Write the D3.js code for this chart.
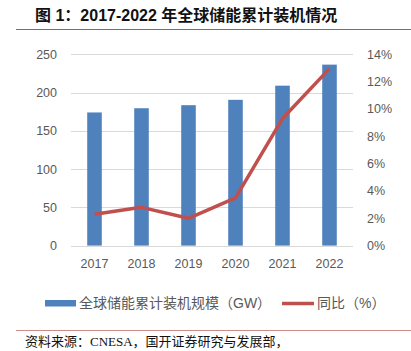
<!DOCTYPE html>
<html><head><meta charset="utf-8">
<script src="https://cdn.jsdelivr.net/npm/d3@7"></script>
<style>body{margin:0;background:#fff}svg{display:block}</style>
</head><body>
<svg id="c" width="411" height="351"></svg>
<script>
const years = ["2017","2018","2019","2020","2021","2022"];
const capacity = [174, 179.5, 183.5, 190.5, 209, 236.5];
const growth = [2.3, 2.8, 2.0, 3.5, 9.3, 12.95];
const leftTicks = [0,50,100,150,200,250];
const rightTicks = [0,2,4,6,8,10,12,14];

const svg = d3.select("#c");
const L=71, R=353, T=54.3, B=245.6;
const x = d3.scaleBand().domain(years).range([L,R]).paddingInner(0.69).paddingOuter(0.345);
const xc = d3.scaleBand().domain(years).range([L,R]);
const y = d3.scaleLinear().domain([0,250]).range([B,T]);
const y2 = d3.scaleLinear().domain([0,14]).range([B,T]);
const gray="#595959", font="'Liberation Sans', Arial, sans-serif";
const mix="'Liberation Sans','Noto Sans CJK SC', sans-serif";

// title
svg.append("text").attr("x",35).attr("y",21).attr("font-family",mix)
  .attr("font-weight","bold").attr("font-size",16).attr("fill","#111").text("图 1：2017-2022 年全球储能累计装机情况");
svg.append("line").attr("x1",16).attr("x2",411).attr("y1",29.5).attr("y2",29.5).attr("stroke","#C0504D").attr("stroke-width",1.2);

// gridlines
svg.append("g").selectAll("line").data(leftTicks).join("line")
  .attr("x1",L).attr("x2",R).attr("y1",d=>Math.round(y(d))+0.5).attr("y2",d=>Math.round(y(d))+0.5)
  .attr("stroke","#D9D9D9").attr("stroke-width",1);

// left axis
const ga = svg.append("g").attr("transform",`translate(${L-14},0)`)
  .call(d3.axisLeft(y).tickValues(leftTicks).tickSize(0).tickPadding(0));
ga.select(".domain").remove();
ga.selectAll("text").attr("font-family",font).attr("font-size",12.5).attr("fill",gray);

// right axis
const gb = svg.append("g").attr("transform",`translate(${R+14},0)`)
  .call(d3.axisRight(y2).tickValues(rightTicks).tickSize(0).tickPadding(0).tickFormat(d=>d+"%"));
gb.select(".domain").remove();
gb.selectAll("text").attr("font-family",font).attr("font-size",12.5).attr("fill",gray);

// bottom axis
const gx = svg.append("g").attr("transform",`translate(0,${B})`)
  .call(d3.axisBottom(xc).tickSize(0).tickPadding(14));
gx.select(".domain").remove();
gx.selectAll("text").attr("font-family",font).attr("font-size",12.5).attr("fill",gray);

// bars
svg.append("g").selectAll("rect").data(capacity).join("rect")
  .attr("x",(d,i)=>x(years[i])).attr("width",x.bandwidth())
  .attr("y",d=>y(d)).attr("height",d=>B-y(d)).attr("fill","#4F81BD");

// line
svg.append("path").datum(growth)
  .attr("d",d3.line().x((d,i)=>xc(years[i])+xc.bandwidth()/2).y(d=>y2(d)))
  .attr("fill","none").attr("stroke","#C0504D").attr("stroke-width",3.5).attr("stroke-linejoin","round");

// legend
svg.append("rect").attr("x",45).attr("y",300).attr("width",31).attr("height",6.5).attr("fill","#4F81BD");
svg.append("text").attr("x",79).attr("y",308).attr("font-family",mix).attr("font-size",14).attr("fill",gray).text("全球储能累计装机规模（GW）");
svg.append("line").attr("x1",282).attr("x2",314).attr("y1",303.5).attr("y2",303.5).attr("stroke","#C0504D").attr("stroke-width",3.5);
svg.append("text").attr("x",317).attr("y",308).attr("font-family",mix).attr("font-size",14).attr("fill",gray).text("同比（%）");

// source
svg.append("line").attr("x1",16).attr("x2",411).attr("y1",330.5).attr("y2",330.5).attr("stroke","#D08A88").attr("stroke-width",1.2);
svg.append("text").attr("x",25).attr("y",346).attr("font-family","'Liberation Serif','Noto Sans CJK SC', serif").attr("font-size",13).attr("fill","#111").text("资料来源：CNESA，国开证券研究与发展部，");
</script>
</body></html>
